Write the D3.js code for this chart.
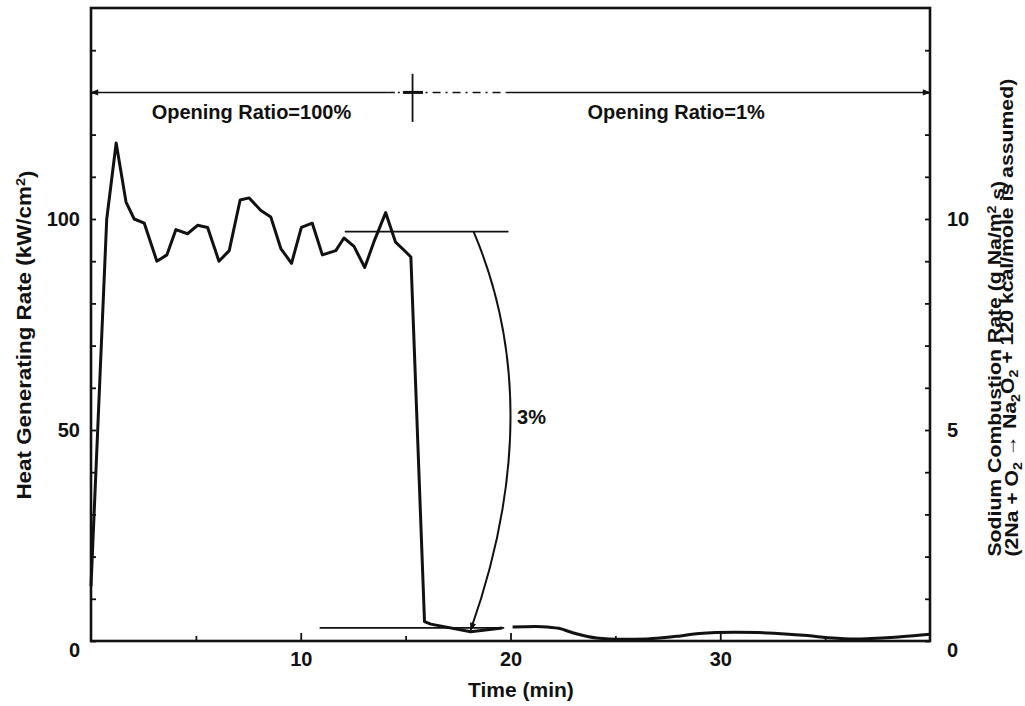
<!DOCTYPE html>
<html>
<head>
<meta charset="utf-8">
<script src="https://cdn.jsdelivr.net/npm/d3@7"></script>
<style>
  html, body { margin: 0; padding: 0; background: #fff; }
  svg { display: block; }
  text { font-family: "Liberation Sans", Arial, Helvetica, sans-serif; fill: #111; }
</style>
</head>
<body>
<svg id="chart" width="1025" height="706"></svg>
<script>
// ---- data ----
const timeMain  = [0, 0.75, 1.2, 1.67, 2.06, 2.54, 3.14, 3.62, 4.05, 4.6, 5.08, 5.56, 6.1, 6.59, 7.11, 7.54, 8.1, 8.57, 9.05, 9.56, 10.03, 10.55, 11.03, 11.67, 12.06, 12.54, 13.05, 13.52, 14.05, 14.52, 15.05, 15.25, 15.9, 16.2, 18.1, 19.6];
const heatMain  = [13, 100, 118, 104, 100, 99, 90, 91.5, 97.5, 96.5, 98.5, 98, 90, 92.5, 104.5, 105, 102, 100.5, 93, 89.5, 98, 99, 91.5, 92.5, 95.5, 93.5, 88.5, 95, 101.5, 94.5, 92, 91, 4.6, 4.0, 2.2, 3.1];
const timeTail  = [20.1, 21.5, 22.3, 23.0, 24.1, 26.5, 28.1, 29.0, 31.8, 33.8, 36.2, 38.6, 40];
const heatTail  = [3.3, 3.4, 3.0, 1.9, 0.7, 0.5, 1.2, 1.8, 2.0, 1.4, 0.5, 1.0, 1.6];

const xTicks      = [5, 10, 15, 20, 25, 30, 35];
const xTickLabels = [10, 20, 30];
const yTicks      = [0, 10, 20, 30, 40, 50, 60, 70, 80, 90, 100, 110, 120, 130, 140];
const yTickLabels = [0, 50, 100];
const yRTicks     = [0, 1, 2, 3, 4, 5, 6, 7, 8, 9, 10, 11, 12, 13, 14];
const yRTickLabels = [0, 5, 10];

// annotation values (data units)
const switchTime   = 15.33;
const phaseLevel   = 130;
const phaseLabels  = ["Opening Ratio=100%", "Opening Ratio=1%"];
const phaseLabelT  = [7.65, 27.9];
const phaseLabelV  = 125.4;
const refUpper     = {t0: 12.1, t1: 19.9, v: 97};
const refLower     = {t0: 10.9, t1: 19.7, v: 3.1};
const curveArrow   = {t0: 18.24, v0: 97, tc: 21.83, vc: 55, t1: 18.1, v1: 2.6};
const curveLabel   = {text: "3%", t: 21.0, v: 53};

// ---- scales ----
const svg = d3.select("#chart");
const L = 91, R = 930, T = 8, B = 641;
const x  = d3.scaleLinear().domain([0, 40]).range([L, R]);
const y  = d3.scaleLinear().domain([0, 150]).range([B, T]);
const yR = d3.scaleLinear().domain([0, 15]).range([B, T]);

// markers
const defs = svg.append("defs");
defs.append("marker").attr("id", "arr")
  .attr("viewBox", "0 0 10 10").attr("refX", 9).attr("refY", 5)
  .attr("markerWidth", 10).attr("markerHeight", 8).attr("markerUnits", "userSpaceOnUse")
  .attr("orient", "auto")
  .append("path").attr("d", "M0,1 L10,5 L0,9 Z").attr("fill", "#111");

// ---- axes ----
const fontAxis = "20px";
const ax = svg.append("g").attr("transform", `translate(0,${B})`)
  .call(d3.axisBottom(x).tickValues(xTicks).tickSize(-6).tickPadding(11)
    .tickFormat(d => xTickLabels.includes(d) ? d : ""));
ax.selectAll(".tick line").attr("y2", d => xTickLabels.includes(d) ? -8 : -5);

const ay = svg.append("g").attr("transform", `translate(${L},0)`)
  .call(d3.axisLeft(y).tickValues(yTicks).tickSize(-5).tickPadding(11)
    .tickFormat(d => yTickLabels.includes(d) ? d : ""));

const ayR = svg.append("g").attr("transform", `translate(${R},0)`)
  .call(d3.axisRight(yR).tickValues(yRTicks).tickSize(-5).tickPadding(17)
    .tickFormat(d => yRTickLabels.includes(d) ? d : ""));

[ax, ay, ayR].forEach(g => {
  g.select(".domain").remove();
  g.selectAll(".tick line").attr("stroke", "#111").attr("stroke-width", 1.8);
  g.selectAll(".tick text").attr("font-size", fontAxis).attr("font-weight", "bold")
    .attr("fill", "#111").style("font-family", '"Liberation Sans", Arial, sans-serif');
});
ay.selectAll(".tick text").attr("dy", d => d === 0 ? "0.75em" : "0.32em");
ayR.selectAll(".tick text").attr("dy", d => d === 0 ? "0.75em" : "0.32em");

// frame
svg.append("rect").attr("x", L).attr("y", T).attr("width", R - L).attr("height", B - T)
  .attr("fill", "none").attr("stroke", "#111").attr("stroke-width", 2.6);

// axis titles
svg.append("text").attr("x", x(20.5)).attr("y", 697).attr("text-anchor", "middle")
  .attr("font-size", "21px").attr("font-weight", "bold").text("Time (min)");

const leftTitle = svg.append("text")
  .attr("transform", `translate(31,${y(72.5)}) rotate(-90) scale(1.12,1)`)
  .attr("text-anchor", "middle").attr("font-size", "20px").attr("font-weight", "bold");
leftTitle.append("tspan").text("Heat Generating Rate (kW/cm");
leftTitle.append("tspan").attr("dy", "-0.45em").attr("font-size", "13px").text("2");
leftTitle.append("tspan").attr("dy", "0.45em").text(")");

const rt1 = svg.append("text")
  .attr("transform", `translate(1001,${y(20)}) rotate(-90) scale(1.18,1)`)
  .attr("text-anchor", "start").attr("font-size", "18px").attr("font-weight", "bold");
rt1.append("tspan").text("Sodium Combustion Rate (g Na/m");
rt1.append("tspan").attr("dy", "-0.45em").attr("font-size", "12px").text("2");
rt1.append("tspan").attr("dy", "0.45em").text(" s)");

const rt2 = svg.append("text")
  .attr("transform", `translate(1018,${y(20)}) rotate(-90) scale(1.18,1)`)
  .attr("text-anchor", "start").attr("font-size", "18px").attr("font-weight", "bold");
rt2.append("tspan").text("(2Na + O");
rt2.append("tspan").attr("dy", "0.3em").attr("font-size", "12px").text("2");
rt2.append("tspan").attr("dy", "-0.3em").text(" \u2192 Na");
rt2.append("tspan").attr("dy", "0.3em").attr("font-size", "12px").text("2");
rt2.append("tspan").attr("dy", "-0.3em").text("O");
rt2.append("tspan").attr("dy", "0.3em").attr("font-size", "12px").text("2");
rt2.append("tspan").attr("dy", "-0.3em").text(" + 120 kcal/mole is assumed)");

// ---- data lines ----
const line = d3.line().x(d => x(d[0])).y(d => y(d[1]));
svg.append("path").datum(timeMain.map((t, i) => [t, heatMain[i]]))
  .attr("d", line).attr("fill", "none").attr("stroke", "#111")
  .attr("stroke-width", 3).attr("stroke-linejoin", "round");
svg.append("path").datum(timeTail.map((t, i) => [t, heatTail[i]]))
  .attr("d", line.curve(d3.curveCatmullRom)).attr("fill", "none").attr("stroke", "#111")
  .attr("stroke-width", 3).attr("stroke-linejoin", "round");

// ---- annotations ----
const ann = svg.append("g").attr("stroke", "#111").attr("fill", "none");
ann.append("line").attr("x1", x(14.2)).attr("x2", x(0)).attr("y1", y(phaseLevel)).attr("y2", y(phaseLevel))
  .attr("stroke-width", 1.5).attr("marker-end", "url(#arr)");
ann.append("line").attr("x1", x(14.2)).attr("x2", x(switchTime)).attr("y1", y(phaseLevel)).attr("y2", y(phaseLevel))
  .attr("stroke-width", 1.5).attr("stroke-dasharray", "6,3,2,3");
ann.append("line").attr("x1", x(switchTime)).attr("x2", x(19.8)).attr("y1", y(phaseLevel)).attr("y2", y(phaseLevel))
  .attr("stroke-width", 1.5).attr("stroke-dasharray", "8,5,2,5");
ann.append("line").attr("x1", x(19.8)).attr("x2", x(40)).attr("y1", y(phaseLevel)).attr("y2", y(phaseLevel))
  .attr("stroke-width", 1.5).attr("marker-end", "url(#arr)");
ann.append("line").attr("x1", x(switchTime)).attr("x2", x(switchTime)).attr("y1", y(134.4)).attr("y2", y(123))
  .attr("stroke-width", 1.8);
ann.append("line").attr("x1", x(switchTime - 0.45)).attr("x2", x(switchTime + 0.5)).attr("y1", y(phaseLevel)).attr("y2", y(phaseLevel))
  .attr("stroke-width", 3);
phaseLabels.forEach((s, i) => {
  svg.append("text").attr("x", x(phaseLabelT[i])).attr("y", y(phaseLabelV)).attr("dy", "0.35em")
    .attr("text-anchor", "middle").attr("font-size", "20px").attr("font-weight", "bold").text(s);
});
[refUpper, refLower].forEach(r => {
  ann.append("line").attr("x1", x(r.t0)).attr("x2", x(r.t1)).attr("y1", y(r.v)).attr("y2", y(r.v))
    .attr("stroke-width", 1.6);
});
const cp = d3.path();
cp.moveTo(x(curveArrow.t0), y(curveArrow.v0));
cp.quadraticCurveTo(x(curveArrow.tc), y(curveArrow.vc), x(curveArrow.t1), y(curveArrow.v1));
ann.append("path").attr("d", cp.toString()).attr("stroke-width", 2).attr("marker-end", "url(#arr)");
svg.append("text").attr("x", x(curveLabel.t)).attr("y", y(curveLabel.v)).attr("dy", "0.35em")
  .attr("text-anchor", "middle").attr("font-size", "20px").attr("font-weight", "bold").text(curveLabel.text);
</script>
</body>
</html>
